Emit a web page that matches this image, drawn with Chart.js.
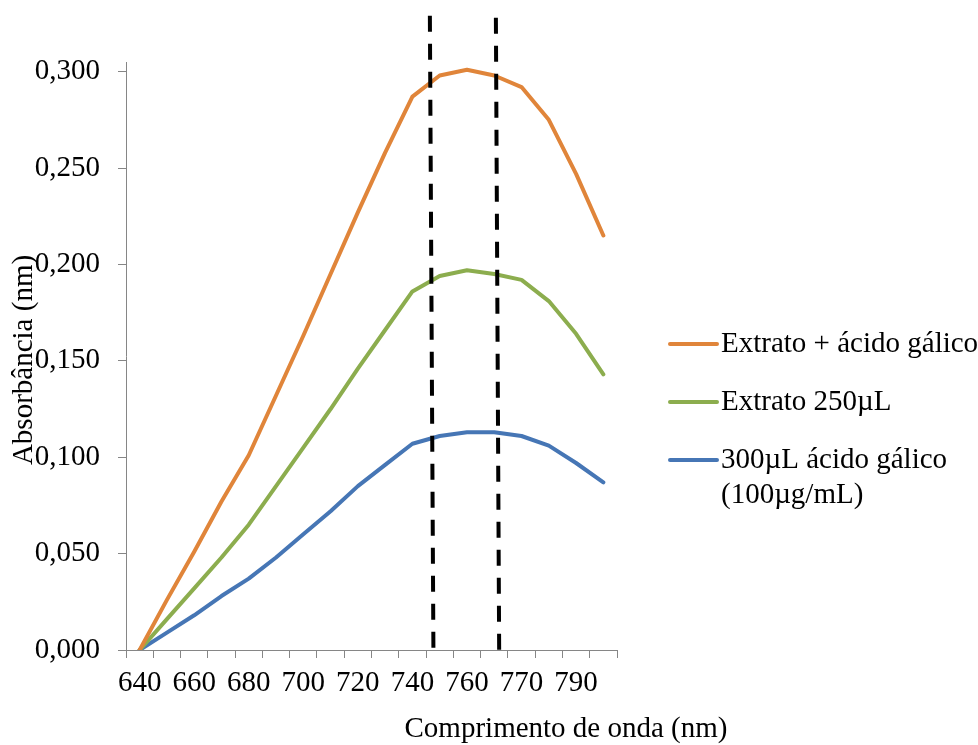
<!DOCTYPE html>
<html>
<head>
<meta charset="utf-8">
<script src="https://cdn.jsdelivr.net/npm/chart.js@4/dist/chart.umd.min.js"></script>
<style>
  html, body { margin: 0; padding: 0; background: #fff; }
  canvas { display: block; }
</style>
</head>
<body>
<canvas id="chart" width="978" height="745"></canvas>
<script>
// wavelengths (nm); only every other one gets a label on the axis
const wavelengths = ["640", "650", "660", "670", "680", "690", "700", "710", "720",
  "730", "740", "750", "760", "765", "770", "780", "790", "800"];

const extratoAcido = [0.000, 0.026, 0.051, 0.077, 0.101, 0.132, 0.163, 0.195, 0.227,
  0.258, 0.287, 0.298, 0.301, 0.298, 0.292, 0.275, 0.247, 0.215];
const extrato250 = [0.000, 0.016, 0.032, 0.048, 0.065, 0.085, 0.105, 0.125, 0.146,
  0.166, 0.186, 0.194, 0.197, 0.195, 0.192, 0.181, 0.164, 0.143];
const acidoGalico = [0.000, 0.009, 0.018, 0.028, 0.037, 0.048, 0.060, 0.072, 0.085,
  0.096, 0.107, 0.111, 0.113, 0.113, 0.111, 0.106, 0.097, 0.087];

const seriesNames = [
  ["Extrato + ácido gálico"],
  ["Extrato 250µL"],
  ["300µL ácido gálico", "(100µg/mL)"]
];
const seriesColors = ["#E0853A", "#8CAD4E", "#4676B5"];

// dashed guides, in category units (bottom -> top) and absorbance at the top
const guides = [
  { bottom: 10.77, top: 10.64, height: 0.329 },
  { bottom: 13.18, top: 13.06, height: 0.328 }
];

const FONT = "Liberation Serif";
const AXIS_GRAY = "#868686";

const guideLines = {
  id: "guideLines",
  afterDatasetsDraw(chart) {
    const { ctx, scales: { x, y } } = chart;
    ctx.save();
    ctx.strokeStyle = "#000";
    ctx.lineWidth = 4;
    ctx.setLineDash([16, 12]);
    guides.forEach(g => {
      ctx.beginPath();
      ctx.moveTo(x.getPixelForValue(g.top), y.getPixelForValue(g.height));
      ctx.lineTo(x.getPixelForValue(g.bottom), y.getPixelForValue(0));
      ctx.stroke();
    });
    ctx.restore();
  }
};

const sideLegend = {
  id: "sideLegend",
  afterDraw(chart) {
    const { ctx } = chart;
    const rowY = [344, 402, 460];
    ctx.save();
    ctx.font = "29px " + FONT;
    ctx.fillStyle = "#000";
    ctx.textBaseline = "middle";
    ctx.textAlign = "left";
    chart.data.datasets.forEach((ds, i) => {
      const y = rowY[i];
      ctx.strokeStyle = ds.borderColor;
      ctx.lineWidth = 4;
      ctx.lineCap = "round";
      ctx.beginPath();
      ctx.moveTo(670, y);
      ctx.lineTo(717, y);
      ctx.stroke();
      seriesNames[i].forEach((line, k) => ctx.fillText(line, 721, y + k * 35));
    });
    ctx.restore();
  }
};

const axisTitles = {
  id: "axisTitles",
  afterDraw(chart) {
    const { ctx } = chart;
    ctx.save();
    ctx.font = "29px " + FONT;
    ctx.fillStyle = "#000";
    ctx.textAlign = "center";
    ctx.textBaseline = "alphabetic";
    ctx.fillText("Comprimento de onda (nm)", 566, 737);
    ctx.translate(32, 360);
    ctx.rotate(-Math.PI / 2);
    ctx.fillText("Absorbância (nm)", 0, 0);
    ctx.restore();
  }
};

const tickFont = { family: FONT, size: 29, lineHeight: 1.2 };

new Chart(document.getElementById("chart"), {
  type: "line",
  data: {
    labels: wavelengths,
    datasets: [extratoAcido, extrato250, acidoGalico].map((values, i) => ({
      label: seriesNames[i].join(" "),
      data: values,
      borderColor: seriesColors[i],
      borderWidth: 4,
      pointRadius: 0,
      tension: 0,
      borderJoinStyle: "round",
      borderCapStyle: "round"
    }))
  },
  options: {
    responsive: false,
    animation: false,
    devicePixelRatio: 1,
    layout: { padding: { top: 62, right: 361, bottom: 0, left: 0 } },
    plugins: { legend: { display: false }, tooltip: { enabled: false } },
    scales: {
      x: {
        offset: true,
        grid: { offset: true, drawOnChartArea: false, tickLength: 8, color: AXIS_GRAY },
        border: { color: AXIS_GRAY, width: 1 },
        ticks: {
          autoSkip: false,
          maxRotation: 0,
          padding: 8,
          color: "#000",
          font: tickFont,
          callback: (v, i) => (i % 2 === 0 ? wavelengths[i] : "")
        },
        afterFit: s => { s.height = 95; }
      },
      y: {
        min: 0,
        max: 0.305,
        grid: { drawOnChartArea: false, tickLength: 8, color: AXIS_GRAY },
        border: { color: AXIS_GRAY, width: 1 },
        ticks: {
          stepSize: 0.05,
          includeBounds: false,
          padding: 18,
          color: "#000",
          font: tickFont,
          callback: v => v.toFixed(3).replace(".", ",")
        },
        afterBuildTicks: s => { s.ticks = s.ticks.filter(t => t.value <= 0.3 + 1e-9); },
        afterFit: s => { s.width = 126; }
      }
    }
  },
  plugins: [guideLines, sideLegend, axisTitles]
});
</script>
</body>
</html>
